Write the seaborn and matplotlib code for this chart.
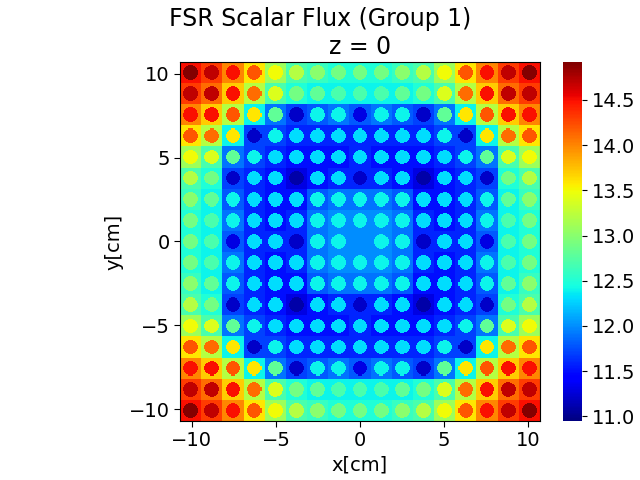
import numpy as np
import matplotlib
matplotlib.use("Agg")
import matplotlib.pyplot as plt
import seaborn as sns

# upper-left quadrant of the 17x17 pin lattice (row 0 = top, col 8 = centre)
pin_flux = [
    [14.9, 14.7, 14.5, 14.2, 13.5, 13.2, 13.0, 12.9, 12.9],
    [14.7, 14.7, 14.5, 14.1, 13.4, 12.9, 12.8, 12.7, 12.7],
    [14.5, 14.5, 14.2, 13.6, 12.8, 11.2, 12.4, 12.4, 11.3],
    [14.2, 14.1, 13.6, 11.2, 12.4, 12.3, 12.3, 12.3, 12.3],
    [13.5, 13.4, 12.8, 12.4, 12.3, 12.3, 12.3, 12.3, 12.3],
    [13.2, 12.9, 11.2, 12.3, 12.3, 11.1, 12.3, 12.3, 11.2],
    [13.0, 12.8, 12.4, 12.3, 12.3, 12.3, 12.4, 12.4, 12.4],
    [12.9, 12.7, 12.4, 12.3, 12.3, 12.3, 12.4, 12.4, 12.4],
    [12.9, 12.7, 11.3, 12.3, 12.3, 11.2, 12.4, 12.4, 12.0],
]
mod_flux = [
    [14.5, 14.3, 14.0, 13.6, 13.1, 12.7, 12.6, 12.5, 12.5],
    [14.3, 14.1, 13.7, 13.2, 12.7, 12.5, 12.4, 12.4, 12.4],
    [14.0, 13.7, 13.2, 12.4, 11.9, 11.7, 11.8, 11.9, 11.8],
    [13.6, 13.2, 12.4, 11.7, 11.7, 11.6, 11.6, 11.6, 11.6],
    [13.1, 12.7, 11.9, 11.7, 11.6, 11.5, 11.5, 11.5, 11.6],
    [12.7, 12.5, 11.7, 11.6, 11.5, 11.3, 11.5, 11.6, 11.6],
    [12.6, 12.4, 11.8, 11.6, 11.5, 11.5, 11.8, 11.9, 11.9],
    [12.5, 12.4, 11.9, 11.6, 11.5, 11.6, 11.9, 12.0, 12.0],
    [12.5, 12.4, 11.8, 11.6, 11.6, 11.6, 11.9, 12.0, 12.0],
]
ticks = [-10, -5, 0, 5, 10]
cbar_ticks = [11.0, 11.5, 12.0, 12.5, 13.0, 13.5, 14.0, 14.5]

pitch = 1.26
half = 17 * pitch / 2


def full_lattice(q):
    q = np.array(q)
    top = np.hstack([q, q[:, -2::-1]])
    return np.vstack([top, top[-2::-1, :]])


pins = full_lattice(pin_flux)
mods = full_lattice(mod_flux)

n = 340
centres = np.linspace(-half, half, n, endpoint=False) + half / n
X, Y = np.meshgrid(centres, -centres)
col = np.clip(((X + half) // pitch).astype(int), 0, 16)
row = np.clip(((half - Y) // pitch).astype(int), 0, 16)
cx = -half + (col + 0.5) * pitch
cy = half - (row + 0.5) * pitch
inside = (X - cx) ** 2 + (Y - cy) ** 2 < 0.43 ** 2
field = np.where(inside, pins[row, col], mods[row, col])

fig = plt.figure(figsize=(6.4, 4.8), dpi=100)
ax = fig.add_axes([180 / 640, 0.123, 360 / 640, 0.748])
cax = fig.add_axes([563 / 640, 0.123, 19 / 640, 0.748])
sns.heatmap(field, ax=ax, cbar_ax=cax, cmap="jet", vmin=10.95, vmax=14.92,
            xticklabels=False, yticklabels=False, rasterized=True,
            cbar_kws={"ticks": cbar_ticks})
pos = [(t + half) / (2 * half) * n for t in ticks]
ax.set_xticks(pos)
ax.set_xticklabels([str(t).replace("-", "\u2212") for t in ticks], fontsize=14)
ax.set_yticks([n - p for p in pos])
ax.set_yticklabels([str(t).replace("-", "\u2212") for t in ticks], fontsize=14, rotation=0)
ax.tick_params(length=4)
for s in ax.spines.values():
    s.set_visible(True)
ax.set_xlabel("x[cm]", fontsize=14)
ax.set_ylabel("y[cm]", fontsize=14)
ax.set_title("z = 0", fontsize=17)
fig.suptitle("FSR Scalar Flux (Group 1)", fontsize=17, y=0.985)
cax.tick_params(labelsize=14)
fig.savefig("out.png")
